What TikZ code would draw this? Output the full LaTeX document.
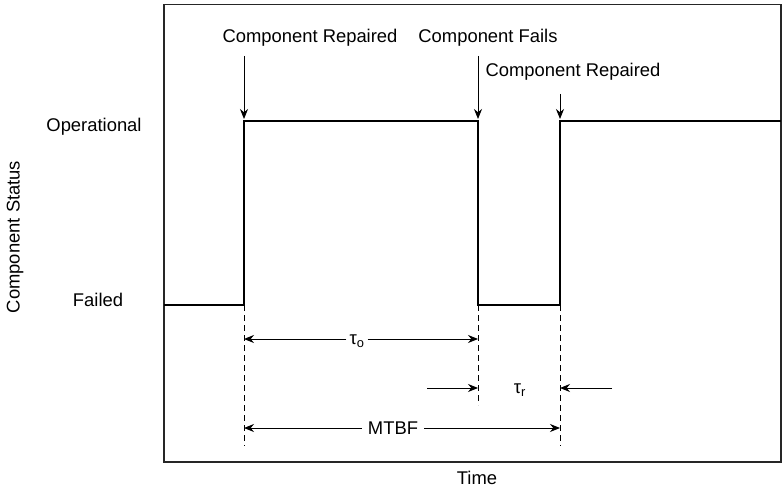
\documentclass[tikz,border=0pt]{standalone}
\usepackage{fontspec}
\setmainfont{Liberation Sans}
\usetikzlibrary{arrows.meta}
\begin{document}
\begin{tikzpicture}[x=1pt,y=-1pt,
  lbl/.style={inner sep=0pt,font=\fontsize{18.4}{22}\selectfont},
  sig/.style={line width=1.7pt},
  frm/.style={line width=1.3pt, draw=black!85},
  arr/.style={line width=1pt,-{Stealth[length=10pt,width=8pt]}},
  dsh/.style={line width=1pt,dash pattern=on 6pt off 4pt}]
\useasboundingbox (0,0) rectangle (782,492);
% frame
\draw[frm] (164,4.5) rectangle (781,462);
% signal
\coordinate (s0) at (164,305);
\coordinate (s1) at (244,305);
\coordinate (s2) at (244,121);
\coordinate (s3) at (478,121);
\coordinate (s4) at (478,305);
\coordinate (s5) at (560,305);
\coordinate (s6) at (560,121);
\coordinate (s7) at (781,121);
\draw[sig] (s0) -- (s1) -- (s2) -- (s3) -- (s4) -- (s5) -- (s6) -- (s7);
% labels
\node[lbl] (l1) at (310,38) {Component Repaired};
\node[lbl] (l2) at (488,38) {Component Fails};
\node[lbl] (l3) at (573,72) {Component Repaired};
\coordinate (a1s) at (244,56); \coordinate (a1e) at (244,119);
\coordinate (a2s) at (478,56); \coordinate (a2e) at (478,119);
\coordinate (a3s) at (560,94); \coordinate (a3e) at (560,119);
\draw[arr] (a1s) -- (a1e);
\draw[arr] (a2s) -- (a2e);
\draw[arr] (a3s) -- (a3e);
\node[lbl] (op) at (94,127) {Operational};
\node[lbl] (fa) at (98,300) {Failed};
\node[lbl,rotate=90] (cs) at (15,237) {Component Status};
\node[lbl] (time) at (477,478) {Time};
% dashed lines
\coordinate (d1e) at (244,446);
\coordinate (d2e) at (478,405);
\coordinate (d3e) at (560,446);
\draw[dsh] (s1) -- (d1e);
\draw[dsh] (s4) -- (d2e);
\draw[dsh] (s5) -- (d3e);
% tau_o
\node[lbl,fill=white,inner xsep=3pt] (to) at (357,341) {τ\textsubscript{o}};
\coordinate (toL) at (244,339); \coordinate (toR) at (478,339);
\draw[arr] (to.west|-toL) -- (toL);
\draw[arr] (to.east|-toR) -- (toR);
% tau_r
\node[lbl] (tr) at (520,390) {τ\textsubscript{r}};
\coordinate (trLs) at (427,388); \coordinate (trLe) at (478,388);
\coordinate (trRs) at (612,388); \coordinate (trRe) at (560,388);
\draw[arr] (trLs) -- (trLe);
\draw[arr] (trRs) -- (trRe);
% MTBF
\node[lbl,fill=white,inner xsep=6pt] (mt) at (393,428) {MTBF};
\coordinate (mL) at (244,428); \coordinate (mR) at (560,428);
\draw[arr] (mt.west) -- (mL);
\draw[arr] (mt.east) -- (mR);
\end{tikzpicture}
\end{document}
